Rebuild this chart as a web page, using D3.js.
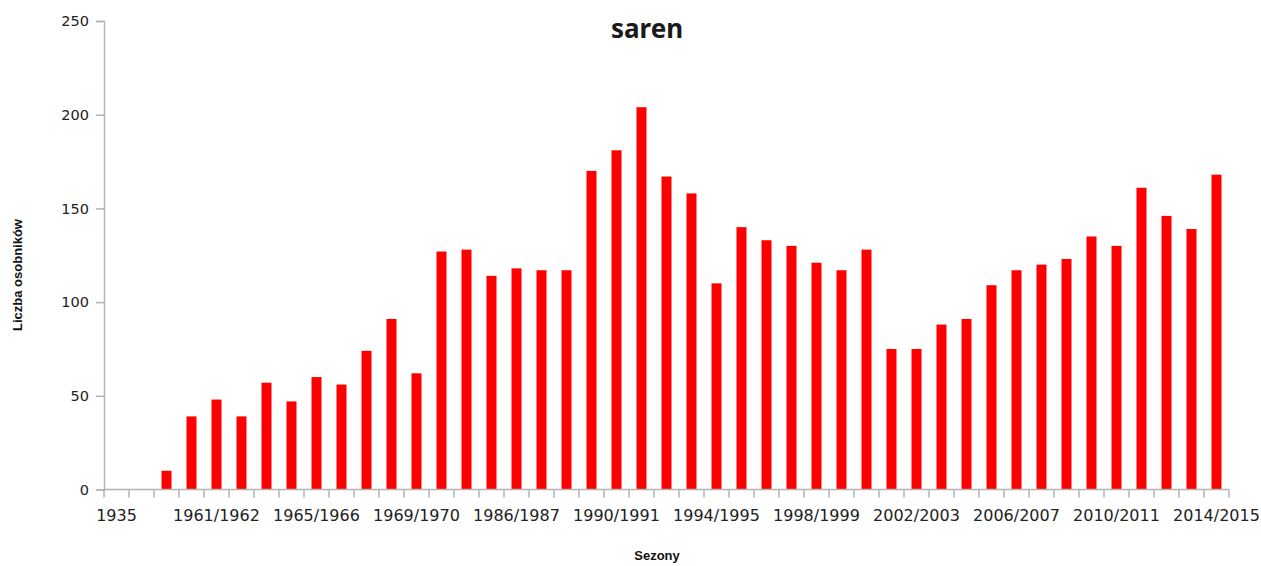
<!DOCTYPE html>
<html lang="pl">
<head>
    <meta charset="UTF-8">
    <title>saren</title>
    <script src="https://d3js.org/d3.v7.min.js"></script>
    <style>
        body {
            margin: 0;
            background: #fff;
        }

        .tick text {
            font-family: "DejaVu Sans", sans-serif;
            fill: #222;
        }

        .axis path,
        .axis line {
            stroke: #b3b3b3;
            stroke-width: 1.5px;
        }

        .axis-title {
            font-family: "Liberation Sans", Arial, sans-serif;
            font-weight: bold;
            font-size: 13px;
            fill: #111;
        }

        .title {
            font-family: "Noto Sans", sans-serif;
            font-weight: bold;
            font-size: 26px;
            fill: #1a1a1a;
        }
    </style>
</head>
<body>

<div id="chart"></div>

<script>
    // seasons (only every 4th one is labelled on the axis)
    const seasons = [
        "1935", "1958/1959", "1959/1960", "1960/1961",
        "1961/1962", "1962/1963", "1963/1964", "1964/1965",
        "1965/1966", "1966/1967", "1967/1968", "1968/1969",
        "1969/1970", "1970/1971", "1975/1976", "1980/1981",
        "1986/1987", "1987/1988", "1988/1989", "1989/1990",
        "1990/1991", "1991/1992", "1992/1993", "1993/1994",
        "1994/1995", "1995/1996", "1996/1997", "1997/1998",
        "1998/1999", "1999/2000", "2000/2001", "2001/2002",
        "2002/2003", "2003/2004", "2004/2005", "2005/2006",
        "2006/2007", "2007/2008", "2008/2009", "2009/2010",
        "2010/2011", "2011/2012", "2012/2013", "2013/2014",
        "2014/2015"
    ];

    // number of animals per season
    const counts = [
        0, 0, 10, 39,
        48, 39, 57, 47,
        60, 56, 74, 91,
        62, 127, 128, 114,
        118, 117, 117, 170,
        181, 204, 167, 158,
        110, 140, 133, 130,
        121, 117, 128, 75,
        75, 88, 91, 109,
        117, 120, 123, 135,
        130, 161, 146, 139,
        168
    ];

    const yTicks = [0, 50, 100, 150, 200, 250];

    const width = 1261;
    const height = 566;
    const margin = { top: 21, right: 32, bottom: 76.5, left: 104 };

    const data = seasons.map((s, i) => ({ season: s, value: counts[i] }));

    const svg = d3.select("#chart")
        .append("svg")
        .attr("width", width)
        .attr("height", height);

    const x = d3.scaleBand()
        .domain(seasons)
        .range([margin.left, width - margin.right])
        .paddingInner(0.6)
        .paddingOuter(0.3);

    // band scale without padding, used for the boundary ticks
    const xFull = d3.scaleBand()
        .domain(seasons)
        .range([margin.left, width - margin.right]);

    const y = d3.scaleLinear()
        .domain([0, 250])
        .range([height - margin.bottom, margin.top]);

    // bars
    svg.selectAll("rect")
        .data(data)
        .enter()
        .append("rect")
        .attr("x", d => xFull(d.season) + (xFull.bandwidth() - 10) / 2)
        .attr("y", d => y(d.value))
        .attr("width", 10)
        .attr("height", d => y(0) - y(d.value))
        .attr("fill", "#ff0000");

    // y axis
    const yAxis = svg.append("g")
        .attr("class", "axis")
        .attr("transform", `translate(${margin.left},0)`)
        .call(d3.axisLeft(y).tickValues(yTicks).tickSize(8).tickPadding(7));
    yAxis.selectAll(".tick text").style("font-size", "14.5px");

    // x axis: line + ticks at category boundaries
    const xAxis = svg.append("g")
        .attr("class", "axis")
        .attr("transform", `translate(0,${y(0)})`);

    xAxis.append("line")
        .attr("x1", margin.left)
        .attr("x2", width - margin.right)
        .attr("y1", 0)
        .attr("y2", 0);

    const bounds = seasons.map(s => xFull(s)).concat([width - margin.right]);
    xAxis.selectAll(".btick")
        .data(bounds)
        .enter()
        .append("line")
        .attr("x1", d => d)
        .attr("x2", d => d)
        .attr("y1", 0)
        .attr("y2", 8);

    xAxis.selectAll(".xlabel")
        .data(seasons.filter((s, i) => i % 4 === 0))
        .enter()
        .append("text")
        .attr("class", "xlabel")
        .attr("x", d => xFull(d) + xFull.bandwidth() / 2)
        .attr("y", 31.5)
        .attr("text-anchor", "middle")
        .style("font-family", "DejaVu Sans, sans-serif")
        .style("font-size", "16px")
        .style("fill", "#222")
        .text(d => d);

    // titles
    svg.append("text")
        .attr("class", "title")
        .attr("x", 647)
        .attr("y", 38)
        .attr("text-anchor", "middle")
        .text("saren");

    svg.append("text")
        .attr("class", "axis-title")
        .attr("x", 657)
        .attr("y", 560)
        .attr("text-anchor", "middle")
        .text("Sezony");

    svg.append("text")
        .attr("class", "axis-title")
        .attr("transform", "translate(22,275) rotate(-90)")
        .attr("text-anchor", "middle")
        .text("Liczba osobników");
</script>
</body>
</html>
